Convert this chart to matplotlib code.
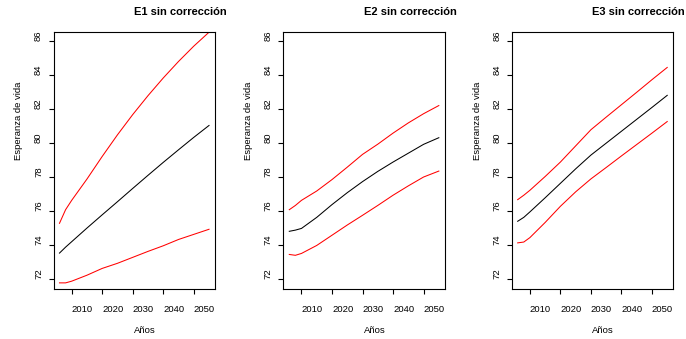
import numpy as np
import matplotlib
matplotlib.use('Agg')
import matplotlib.pyplot as plt

plt.rcParams['font.family'] = ['Liberation Sans', 'DejaVu Sans']

# Data (life expectancy projections)
years = [2006, 2008, 2010, 2015, 2020, 2025, 2030, 2035, 2040, 2045, 2050, 2055]

e1_mid = [73.55, 73.9, 74.22, 75.02, 75.8, 76.57, 77.35, 78.12, 78.88, 79.62, 80.35, 81.05]
e1_up = [75.3, 76.1, 76.65, 77.9, 79.23, 80.5, 81.69, 82.8, 83.84, 84.81, 85.71, 86.53]
e1_lo = [71.8, 71.8, 71.9, 72.25, 72.65, 72.95, 73.3, 73.65, 73.98, 74.35, 74.65, 74.95]

e2_mid = [74.83, 74.9, 75.0, 75.65, 76.4, 77.1, 77.75, 78.35, 78.9, 79.42, 79.94, 80.33]
e2_up = [76.1, 76.35, 76.65, 77.2, 77.87, 78.6, 79.35, 79.95, 80.6, 81.2, 81.74, 82.22]
e2_lo = [73.47, 73.42, 73.53, 74.0, 74.6, 75.2, 75.77, 76.35, 76.95, 77.5, 78.02, 78.37]

e3_mid = [75.42, 75.65, 75.97, 76.8, 77.65, 78.5, 79.31, 80.01, 80.71, 81.41, 82.11, 82.82]
e3_up = [76.69, 76.95, 77.24, 78.05, 78.9, 79.85, 80.8, 81.54, 82.27, 83.0, 83.74, 84.46]
e3_lo = [74.15, 74.2, 74.46, 75.35, 76.3, 77.15, 77.91, 78.58, 79.26, 79.93, 80.6, 81.28]

titles = ['E1 sin corrección', 'E2 sin corrección', 'E3 sin corrección']
xticks = [2010, 2020, 2030, 2040, 2050]
yticks = [72, 74, 76, 78, 80, 82, 84, 86]

W, H = 686, 339
fig = plt.figure(figsize=(W / 100, H / 100), dpi=100)

lefts = [53.5, 283.3, 511.7]
ax_w = 161.5
ax_top, ax_bot = 31.7, 289.0
fs = 6.8

series = [(e1_mid, e1_up, e1_lo), (e2_mid, e2_up, e2_lo), (e3_mid, e3_up, e3_lo)]

for i in range(3):
	left = lefts[i]
	ax = fig.add_axes([left / W, 1 - ax_bot / H, ax_w / W, (ax_bot - ax_top) / H])
	mid, up, lo = series[i]
	ax.plot(years, up, color='red', lw=0.75)
	ax.plot(years, mid, color='black', lw=0.75)
	ax.plot(years, lo, color='red', lw=0.75)

	# R-like 4% axis extension
	ax.set_xlim(2006 - 0.04 * 49, 2055 + 0.04 * 49)
	ax.set_ylim(72 - 0.04 * 14, 86 + 0.04 * 14)
	ax.set_xticks(xticks)
	ax.set_yticks(yticks)
	ax.tick_params(axis='both', length=3.5, width=0.8, labelsize=fs, color='black')
	ax.tick_params(axis='x', pad=8)
	ax.tick_params(axis='y', pad=4, labelrotation=90)
	for lbl in ax.get_xticklabels():
		lbl.set_horizontalalignment('left')
	for lbl in ax.get_yticklabels():
		lbl.set_verticalalignment('bottom')
	for sp in ax.spines.values():
		sp.set_linewidth(0.8)

	cx = left + ax_w / 2
	cy = (ax_top + ax_bot) / 2
	fig.text(cx / W, 1 - 15 / H, titles[i], fontsize=8, fontweight='bold', ha='left', va='baseline')
	fig.text(cx / W, 1 - 333 / H, 'Años', fontsize=fs, ha='left', va='baseline')
	fig.text((left - 39.2) / W, 1 - cy / H, 'Esperanza de vida', fontsize=fs, rotation=90, ha='left', va='bottom')

fig.savefig('out.png', dpi=100)
